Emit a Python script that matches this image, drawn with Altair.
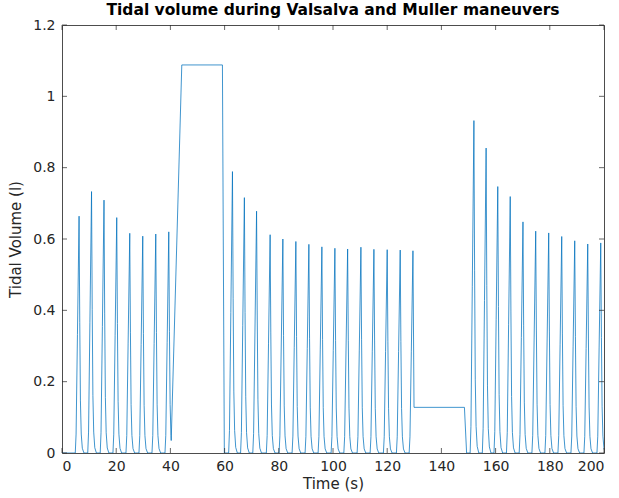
import altair as alt
import pandas as pd

# Peak times (s) and peak tidal volumes (l)
peak_times = [6.3, 10.9, 15.5, 20.2, 25.0, 29.8, 34.6, 39.4,
              62.9, 67.3, 71.8, 76.8, 81.5, 86.3, 91.1, 95.9, 100.7, 105.4,
              110.3, 115.1, 120.0, 124.8, 129.5,
              152.0, 156.5, 160.8, 165.4, 170.1, 174.8, 179.6, 184.4, 189.2,
              194.0, 198.8]
peak_values = [0.664, 0.733, 0.709, 0.660, 0.616, 0.608, 0.614, 0.620,
               0.789, 0.716, 0.678, 0.612, 0.600, 0.593, 0.585, 0.578, 0.574,
               0.572, 0.577, 0.571, 0.570, 0.569, 0.567,
               0.932, 0.855, 0.747, 0.719, 0.648, 0.622, 0.617, 0.607, 0.595,
               0.586, 0.589]

# Shape of a single breath (time offset from peak, fraction of peak)
shape_offsets = [-1.4, -1.1, -0.6, 0.0, 0.25, 0.5, 0.8, 1.2, 1.8]
shape_fracs = [0.0, 0.08, 0.5, 1.0, 0.55, 0.22, 0.08, 0.02, 0.0]

# Valsalva plateau and Muller plateau vertices
valsalva_t = [40.3, 44.2, 59.2, 59.9]
valsalva_v = [0.035, 1.088, 1.088, 0.0]
muller_t = [129.9, 148.5, 149.3]
muller_v = [0.128, 0.128, 0.0]
# breaths whose expiration is interrupted by a maneuver: last kept offset
cut_after = {39.4: 0.8, 129.5: 0.0}

x_ticks = [0, 20, 40, 60, 80, 100, 120, 140, 160, 180, 200]
y_ticks = [0, 0.2, 0.4, 0.6, 0.8, 1.0, 1.2]

pts = [(0.0, 0.0)]
for t, v in zip(peak_times, peak_values):
    limit = cut_after.get(t, 99)
    for o, f in zip(shape_offsets, shape_fracs):
        if o <= limit:
            pts.append((t + o, v * f))
pts += list(zip(valsalva_t, valsalva_v))
pts += list(zip(muller_t, muller_v))
pts.sort(key=lambda p: p[0])
df = pd.DataFrame({"t": [p[0] for p in pts], "v": [p[1] for p in pts]})
df["i"] = range(len(df))

W, H = 542, 428
TICK = 5

xs = alt.Scale(domain=[0, 200], nice=False, zero=False)
ys = alt.Scale(domain=[0, 1.2], nice=False)

axis_style = dict(labelFont="DejaVu Sans", titleFont="DejaVu Sans",
                  labelFontSize=14, titleFontSize=15, titleFontWeight="normal",
                  labelColor="#262626", titleColor="#262626",
                  ticks=False, domain=False, grid=False)

line = alt.Chart(df).mark_line(color="#0072BD", strokeWidth=0.75, clip=True).encode(
    x=alt.X("t:Q", scale=xs, title="Time (s)",
            axis=alt.Axis(values=x_ticks, format="d", labelPadding=6, titlePadding=3,
                          **axis_style)),
    y=alt.Y("v:Q", scale=ys, title="Tidal Volume (l)",
            axis=alt.Axis(values=y_ticks, format=".1~f", labelPadding=7, titlePadding=9,
                          **axis_style)),
    order="i:Q",
)

xt = pd.DataFrame({"x": x_ticks})
yt = pd.DataFrame({"y": y_ticks})
tick_col = "#262626"
xb = alt.Chart(xt).mark_rule(color=tick_col, strokeWidth=0.7).encode(
    x=alt.X("x:Q", scale=xs), y=alt.value(H), y2=alt.value(H - TICK))
xtp = alt.Chart(xt).mark_rule(color=tick_col, strokeWidth=0.7).encode(
    x=alt.X("x:Q", scale=xs), y=alt.value(0), y2=alt.value(TICK))
yl = alt.Chart(yt).mark_rule(color=tick_col, strokeWidth=0.7).encode(
    y=alt.Y("y:Q", scale=ys), x=alt.value(0), x2=alt.value(TICK))
yr = alt.Chart(yt).mark_rule(color=tick_col, strokeWidth=0.7).encode(
    y=alt.Y("y:Q", scale=ys), x=alt.value(W - TICK), x2=alt.value(W))

chart = alt.layer(line, xb, xtp, yl, yr).properties(
    width=W, height=H,
    autosize=alt.AutoSizeParams(type="none"),
    padding={"left": 62, "top": 25, "right": 15, "bottom": 45},
    title=alt.TitleParams("Tidal volume during Valsalva and Muller maneuvers",
                          font="DejaVu Sans", fontSize=15.5, fontWeight="bold",
                          color="#000000", anchor="middle", offset=0),
).configure(background="white").configure_view(stroke="#4d4d4d", strokeWidth=1)

chart.save("out.html", embed_options={"renderer": "svg", "actions": False})
